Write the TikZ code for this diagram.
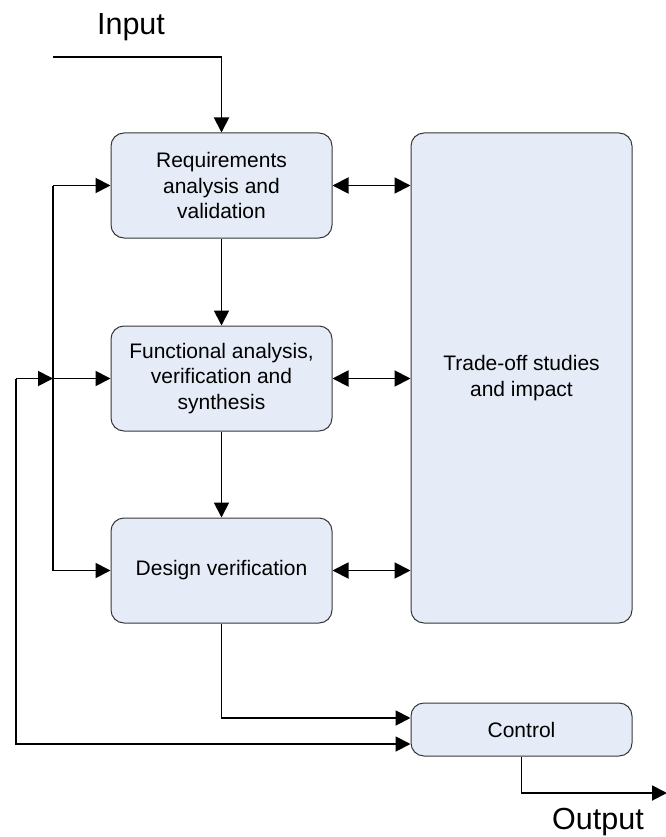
\documentclass[tikz,border=0pt]{standalone}
\usepackage{fontspec}
\setmainfont{Liberation Sans}
\usetikzlibrary{arrows.meta}
\definecolor{boxfill}{RGB}{229,236,247}
\definecolor{boxline}{RGB}{55,55,55}
\begin{document}
\begin{tikzpicture}[x=1pt,y=-1pt,
  box/.style={draw=boxline,line width=1pt,fill=boxfill,rounded corners=13pt,
    minimum width=221pt,align=center,inner sep=0pt,
    font=\fontsize{21}{25.5}\selectfont},
  conn/.style={line width=1.9pt},
  arr/.style={conn,-{Triangle[length=15pt,width=15pt]}},
  darr/.style={conn,{Triangle[length=16pt,width=16pt]}-{Triangle[length=16pt,width=16pt]}},
  lbl/.style={font=\fontsize{30.5}{36}\selectfont,inner sep=0pt}]
\useasboundingbox (0,0) rectangle (665,837);
\node[box,minimum height=105pt] (req) at (221.5,185.5) {Requirements\\analysis and\\validation};
\node[box,minimum height=105pt] (func) at (221.5,378.5) {Functional analysis,\\verification and\\synthesis};
\node[box,minimum height=105pt] (des) at (221.5,570.5) {Design verification};
\node[box,minimum height=490pt] (trade) at (521.5,378) {Trade-off studies\\and impact};
\node[box,minimum height=53pt] (ctrl) at (521.5,729.5) {Control};
\node[lbl] (in) at (131,27) {Input};
\node[lbl] (out) at (598,822) {Output};
\coordinate (inS) at (53,57);
\coordinate (fbx) at (53,0);
\coordinate (ofx) at (16,0);
\coordinate (ofB) at (0,744);
\coordinate (dsB) at (0,718);
\coordinate (outE) at (667,793);
\draw[arr] (inS) -| (req.north);
\draw[arr] (req.south) -- (func.north);
\draw[arr] (func.south) -- (des.north);
\draw[darr] (req.east) -- (trade.west |- req.east);
\draw[darr] (func.east) -- (trade.west |- func.east);
\draw[darr] (des.east) -- (trade.west |- des.east);
\draw[conn] (req.west -| fbx) -- (des.west -| fbx);
\draw[arr] (req.west -| fbx) -- (req.west);
\draw[arr] (des.west -| fbx) -- (des.west);
\draw[arr] (func.west -| ofx) -- (func.west -| fbx);
\draw[arr] (func.west -| fbx) -- (func.west);
\draw[arr] (func.west -| ofx) |- (ofB -| ctrl.west);
\draw[arr] (des.south) |- (dsB -| ctrl.west);
\draw[arr] (ctrl.south) |- (outE);
\end{tikzpicture}
\end{document}
